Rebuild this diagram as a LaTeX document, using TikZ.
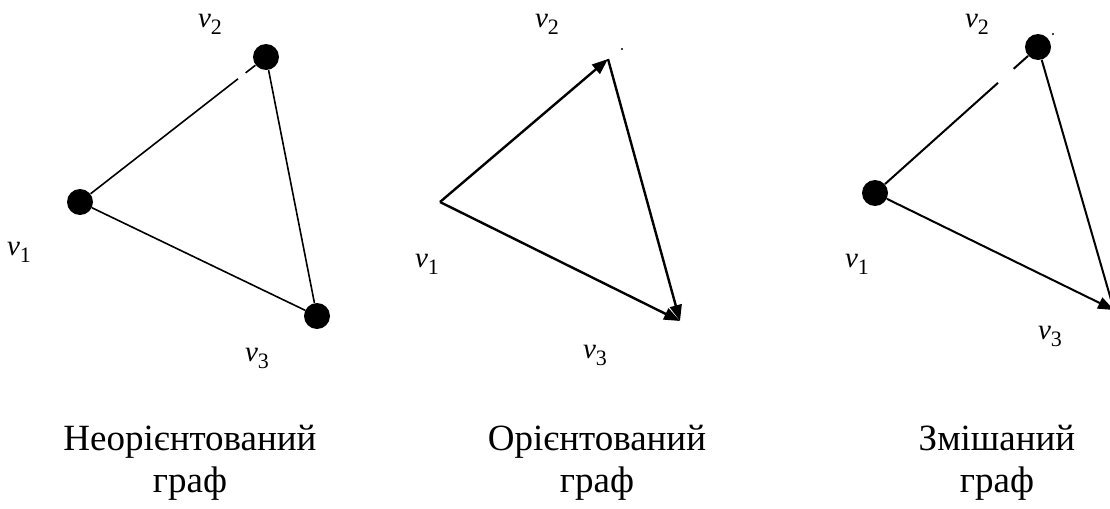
\documentclass[tikz,border=0pt]{standalone}
\usepackage{fontspec}
\setmainfont{Liberation Serif}
\usetikzlibrary{arrows.meta,calc}

\newcommand{\vname}[1]{{\fontsize{14.5}{15}\selectfont\itshape v}\raisebox{-3.5pt}{\fontsize{11}{11}\selectfont #1}}

\begin{document}
\begin{tikzpicture}[
  x=0.5pt, y=-0.5pt,
  vdot/.style={circle, fill=black, inner sep=0pt, minimum size=13pt},
  speck/.style={circle, fill=black, inner sep=0pt, minimum size=1.2pt},
  edge/.style={line width=0.8pt},
  arc/.style={line width=1.2pt, -{Triangle[length=8pt, width=6pt]}},
  vlabel/.style={inner sep=0pt},
  caption/.style={anchor=base, inner sep=0pt, font=\fontsize{18.5}{21}\selectfont},
]
\useasboundingbox (0,0) rectangle (1110,509);

% Undirected graph
\node[vdot] (a1) at (80,202) {};
\node[vdot] (a2) at (266,57) {};
\node[vdot] (a3) at (317,316) {};
\draw[edge] (a1) -- (a2);
\draw[edge] (a2) -- (a3);
\draw[edge] (a1) -- (a3);
\draw[white, line width=2pt] ($(a1)!0.85!(a2)$) -- ($(a1)!0.89!(a2)$);
\node[vlabel] at (210,24) {\vname{2}};
\node[vlabel] at (19,252) {\vname{1}};
\node[vlabel] at (257,358) {\vname{3}};

% Directed graph
\coordinate (b1) at (440,202);
\coordinate (b2) at (608,59);
\coordinate (b3) at (680,321);
\draw[arc] (b1) -- (b2);
\draw[arc] (b2) -- (b3);
\draw[arc] (b1) -- (b3);
\node[speck] (b2dot) at (622,49) {};
\node[vlabel] at (547,24) {\vname{2}};
\node[vlabel] at (427,264) {\vname{1}};
\node[vlabel] at (595,355) {\vname{3}};

% Mixed graph
\node[vdot] (c1) at (875,193) {};
\node[vdot] (c2) at (1038,47) {};
\coordinate (c3) at (1114,310);
\draw[line width=1pt] (c1) -- (c2);
\draw[line width=1pt] (c2) -- (c3);
\draw[line width=1pt, -{Triangle[length=8pt, width=6pt]}] (c1) -- (c3);
\draw[white, line width=2.5pt] ($(c1)!0.755!(c2)$) -- ($(c1)!0.85!(c2)$);
\node[speck] (c2dot) at (1053,34) {};
\node[vlabel] at (977,24) {\vname{2}};
\node[vlabel] at (857,264) {\vname{1}};
\node[vlabel] at (1050,336) {\vname{3}};

% Captions
\node[caption] (cap1) at (190,450) {Неорієнтований};
\node[caption] (cap1b) at (190,492) {граф};
\node[caption] (cap2) at (597,450) {Орієнтований};
\node[caption] (cap2b) at (597,492) {граф};
\node[caption] (cap3) at (997,450) {Змішаний};
\node[caption] (cap3b) at (997,492) {граф};

\end{tikzpicture}
\end{document}
